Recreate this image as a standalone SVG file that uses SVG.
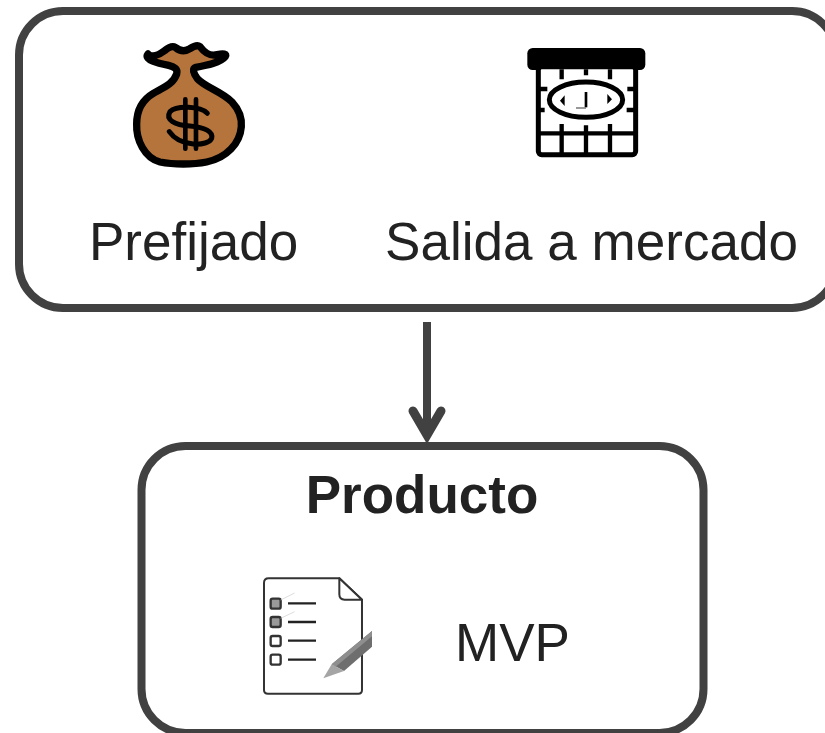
<svg xmlns="http://www.w3.org/2000/svg" width="825" height="733" viewBox="0 0 825 733">
<style>
.box{fill:#fff;stroke:#414141;stroke-width:8}
.t{font-family:"Liberation Sans",Arial,sans-serif;font-size:53px;fill:#222}
.k{fill:none;stroke:#000;stroke-linecap:round;stroke-linejoin:round}
</style>
<rect width="825" height="733" fill="#fff"/>
<g id="node-top">
<rect class="box" x="19" y="11" width="817" height="297" rx="44"/>
<g id="icon-bag" transform="translate(110 30) scale(.3333)">
<path d="M114 72C126 84 148 74 164 62C176 52 186 46 196 52C208 62 224 66 240 56C252 48 262 44 270 50C282 66 296 80 322 74C340 70 352 72 346 80C332 98 290 106 258 112C246 116 250 130 262 146C282 170 334 184 366 216C388 240 396 264 394 290C390 340 350 384 290 396C250 404 190 404 150 396C104 384 78 330 80 282C80 240 96 210 130 190C162 172 190 162 200 132C204 118 194 110 176 106C146 100 100 90 114 72Z" fill="#b5743c" stroke="#000" stroke-width="22" stroke-linejoin="round"/>
<path class="k" stroke-width="15" d="M292 250C270 228 200 226 180 245C165 270 195 285 240 288C285 292 310 305 305 325C295 350 210 352 178 305"/>
<path class="k" stroke-width="14" d="M226 208V356M258 208V356"/>
</g>
<g id="icon-calendar" transform="translate(510 30) scale(.3333)">
<rect x="52" y="54" width="354" height="66" rx="16" fill="#000"/>
<rect x="85" y="110" width="292" height="264" rx="10" fill="#fff" stroke="#000" stroke-width="15"/>
<path d="M84 310H378M155 282V372M228 286V372M300 282V372M155 118V148M228 118V136M300 118V148M90 177H112M90 240H104M352 177H374M350 240H374" fill="none" stroke="#000" stroke-width="13"/>
<ellipse cx="228" cy="209" rx="110" ry="53" fill="#fff" stroke="#000" stroke-width="15"/>
<path d="M228 186V232" fill="none" stroke="#000" stroke-width="8"/>
<path d="M198 234H228" fill="none" stroke="#666" stroke-width="4"/>
<path d="M164 196L150 212L164 228ZM292 192L306 208L292 222Z" fill="#000"/>
</g>
<text class="t" x="89" y="260">Prefijado</text>
<text class="t" x="385" y="260" textLength="413">Salida a mercado</text>
</g>
<g id="connectors">
<path d="M427 322V432" fill="none" stroke="#414141" stroke-width="8"/>
<path d="M413 411L427 435L441 411" fill="none" stroke="#414141" stroke-width="9" stroke-linecap="round" stroke-linejoin="miter"/>
</g>
<g id="node-product">
<rect class="box" x="141.500" y="446" width="562" height="287" rx="44"/>
<text class="t" x="422" y="513" text-anchor="middle" style="font-weight:700">Producto</text>
<g id="icon-list" transform="translate(250 565) scale(.3333)">
<path d="M56 40H268L336 104V375Q336 386 325 386H54Q42 386 42 375V54Q42 40 56 40Z" fill="#fff" stroke="#333" stroke-width="6"/>
<path d="M268 40V88Q268 104 284 104H336Z" fill="#fff" stroke="#333" stroke-width="6" stroke-linejoin="round"/>
<g fill="#fff" stroke="#333" stroke-width="7">
<rect x="62" y="101" width="30" height="30" rx="6" fill="#999"/>
<rect x="62" y="156" width="30" height="30" rx="6" fill="#999"/>
<rect x="62" y="213" width="30" height="30" rx="6"/>
<rect x="62" y="269" width="30" height="30" rx="6"/>
</g>
<path d="M114 115H198M114 171H198M114 227H198M114 284H198" stroke="#222" stroke-width="7" fill="none"/>
<path d="M92 105L134 84M92 160L134 140" stroke="#ccc" stroke-width="2" fill="none"/>
<path d="M366 198V245L282 318L245 298Z" fill="#6e6e6e"/>
<path d="M366 198V214L256 306L245 298Z" fill="#8e8e8e"/>
<path d="M245 298L282 318L220 340Z" fill="#a5a5a5"/>
</g>
<text class="t" x="455" y="661">MVP</text>
</g>
</svg>
